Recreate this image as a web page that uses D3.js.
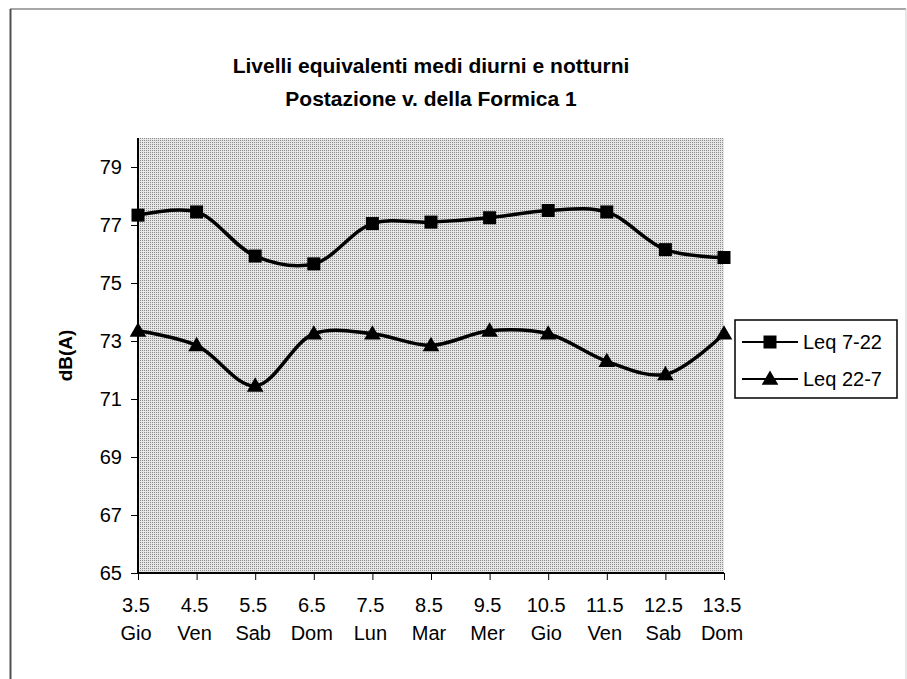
<!DOCTYPE html>
<html>
<head>
<meta charset="utf-8">
<script src="https://cdn.jsdelivr.net/npm/d3@7"></script>
<style>
  body { margin: 0; background: #fff; }
  svg { display: block; font-family: "Liberation Sans", Arial, sans-serif; }
</style>
</head>
<body>
<svg id="chart" width="907" height="679"></svg>
<script>
// data
const dates = ['3.5', '4.5', '5.5', '6.5', '7.5', '8.5', '9.5', '10.5', '11.5', '12.5', '13.5']
const days = ['Gio', 'Ven', 'Sab', 'Dom', 'Lun', 'Mar', 'Mer', 'Gio', 'Ven', 'Sab', 'Dom']
const leqDay = [77.34, 77.45, 75.93, 75.66, 77.05, 77.1, 77.25, 77.5, 77.45, 76.15, 75.88]
const leqNight = [73.35, 72.85, 71.45, 73.25, 73.25, 72.85, 73.35, 73.25, 72.3, 71.85, 73.25]
const yTicks = [65, 67, 69, 71, 73, 75, 77, 79]
const seriesNames = ['Leq 7-22', 'Leq 22-7']

const svg = d3.select('#chart')
const plot = { left: 138, right: 724, top: 138, bottom: 573 }

// outer frame
svg.append('line').attr('x1', 10).attr('y1', 9).attr('x2', 906).attr('y2', 9)
  .attr('stroke', '#8a8a8a').attr('stroke-width', 1.5)
svg.append('line').attr('x1', 10.5).attr('y1', 9).attr('x2', 10.5).attr('y2', 679)
  .attr('stroke', '#505050').attr('stroke-width', 2)
svg.append('line').attr('x1', 906).attr('y1', 9).attr('x2', 906).attr('y2', 679)
  .attr('stroke', '#cfcfcf').attr('stroke-width', 1)

// dotted gray fill of the plot area
const pat = svg.append('defs').append('pattern')
  .attr('id', 'dots').attr('width', 2).attr('height', 2)
  .attr('patternUnits', 'userSpaceOnUse')
pat.append('rect').attr('width', 2).attr('height', 2).attr('fill', '#e6e6e6')
pat.append('rect').attr('width', 1).attr('height', 1).attr('fill', '#8c8c8c')

svg.append('rect')
  .attr('x', plot.left).attr('y', plot.top)
  .attr('width', plot.right - plot.left).attr('height', plot.bottom - plot.top)
  .attr('fill', 'url(#dots)')

const x = d3.scalePoint().domain(d3.range(dates.length)).range([plot.left, plot.right])
const y = d3.scaleLinear().domain([65, 80]).range([plot.bottom, plot.top])

// y axis
const yAxis = svg.append('g').attr('transform', `translate(${plot.left},0)`)
  .call(d3.axisLeft(y).tickValues(yTicks).tickSize(7).tickPadding(9))
yAxis.select('.domain').attr('stroke', '#000').attr('stroke-width', 2)
  .attr('d', `M0,${plot.top}V${plot.bottom}`)
yAxis.selectAll('text').attr('font-size', 20).attr('fill', '#000')
  .attr('font-family', '"Liberation Sans", Arial, sans-serif')

// x axis
const xAxis = svg.append('g').attr('transform', `translate(0,${plot.bottom})`)
  .call(d3.axisBottom(x).tickSize(7).tickFormat(''))
xAxis.select('.domain').attr('stroke', '#000').attr('stroke-width', 2)
  .attr('d', `M${plot.left},0H${plot.right}`)

const xLabels = svg.append('g')
  .attr('font-size', 20).attr('text-anchor', 'middle')
xLabels.selectAll('.date').data(dates).join('text')
  .attr('x', (d, i) => x(i) - 2).attr('y', 612).text(d => d)
xLabels.selectAll('.day').data(days).join('text')
  .attr('x', (d, i) => x(i) - 2).attr('y', 640).text(d => d)

// axis title
svg.append('text')
  .attr('transform', `translate(72,${(plot.top + plot.bottom) / 2}) rotate(-90)`)
  .attr('text-anchor', 'middle').attr('font-size', 19).attr('font-weight', 'bold')
  .text('dB(A)')

// chart title
const title = svg.append('text').attr('text-anchor', 'middle')
  .attr('font-size', 21).attr('font-weight', 'bold')
title.append('tspan').attr('x', 431).attr('y', 73).text('Livelli equivalenti medi diurni e notturni')
title.append('tspan').attr('x', 431).attr('y', 106).text('Postazione v. della Formica 1')

// lines
const line = d3.line()
  .x((d, i) => x(i))
  .y(d => y(d))
  .curve(d3.curveCatmullRom)

const square = d3.symbol().type(d3.symbolSquare).size(169)
const triangle = d3.symbol().type(d3.symbolTriangle).size(120)

;[leqDay, leqNight].forEach((vals, k) => {
  svg.append('path').datum(vals)
    .attr('d', line)
    .attr('fill', 'none').attr('stroke', '#000').attr('stroke-width', 3.5)
  svg.append('g').selectAll('path').data(vals).join('path')
    .attr('transform', (d, i) => `translate(${x(i)},${y(d) + (k ? 1 : 0)})`)
    .attr('d', k ? triangle : square)
    .attr('fill', '#000')
})

// legend
const legend = svg.append('g')
legend.append('rect')
  .attr('x', 735).attr('y', 320).attr('width', 162).attr('height', 78)
  .attr('fill', '#fff').attr('stroke', '#000').attr('stroke-width', 1.5)
seriesNames.forEach((name, k) => {
  const ly = 342 + k * 37
  legend.append('line').attr('x1', 742).attr('x2', 798).attr('y1', ly).attr('y2', ly)
    .attr('stroke', '#000').attr('stroke-width', 2)
  legend.append('path')
    .attr('transform', `translate(770,${ly + (k ? 1 : 0)})`)
    .attr('d', k ? triangle : square).attr('fill', '#000')
  legend.append('text').attr('x', 803).attr('y', ly + 7)
    .attr('font-size', 20).text(name)
})
</script>
</body>
</html>
